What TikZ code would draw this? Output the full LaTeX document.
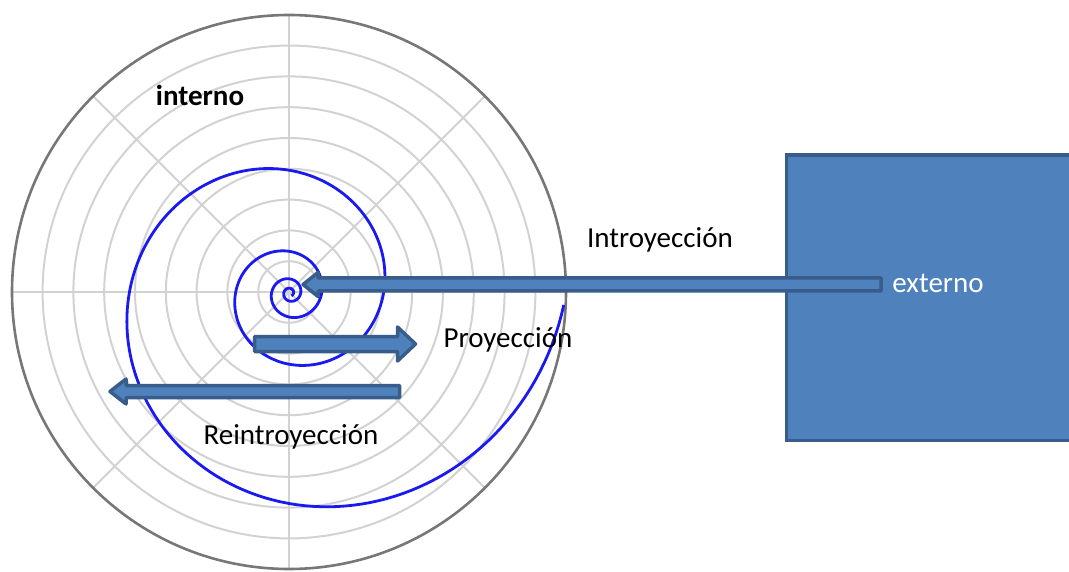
\documentclass[tikz,border=0pt]{standalone}
\usepackage{fontspec}
\setmainfont{Carlito}
\definecolor{gridgray}{HTML}{D2D2D2}
\definecolor{rimgray}{HTML}{777777}
\definecolor{spiralblue}{HTML}{1A1AF0}
\definecolor{boxfill}{HTML}{4F81BD}
\definecolor{boxedge}{HTML}{385D8A}
% block arrow: tail x, tip x, centre y, half shaft, half head, head length (signed)
\newcommand\BlockArrow[6]{%
  \draw[blockarrow] ({#1},{#3-#4}) -- ({#2-(#6)},{#3-#4}) -- ({#2-(#6)},{#3-#5})
    -- ({#2},{#3}) -- ({#2-(#6)},{#3+#5}) -- ({#2-(#6)},{#3+#4})
    -- ({#1},{#3+#4}) -- cycle;}
\begin{document}
\begin{tikzpicture}[x=1pt,y=-1pt,
  grid/.style={draw=gridgray, line width=2pt},
  rim/.style={draw=rimgray, line width=2.6pt},
  spiralline/.style={draw=spiralblue, line width=2.8pt, line join=round},
  blockarrow/.style={fill=boxfill, draw=boxedge, line width=3.5pt, line join=round},
  label/.style={font=\fontsize{29}{34}\selectfont, anchor=base, inner sep=0pt}]
\useasboundingbox (0,0) rectangle (1069,572);
\clip (0,0) rectangle (1069,572);
\coordinate (O) at (289,292);
% polar grid
\foreach \k in {1,...,8} \draw[grid] (O) circle[radius={\k*30.8}];
\foreach \a in {0,45,90,135}
  \draw[grid] ([shift={(\a:277)}]O) -- ([shift={(\a+180:277)}]O);
\draw[rim] (O) circle[radius=277];
% logarithmic spiral winding in towards the centre
\draw[spiralline] plot[domain=0:1500, samples=700]
  ({290+274*exp(-0.00300*\x)*cos(\x+2.5)}, {293+274*exp(-0.00300*\x)*sin(\x+2.5)});
% outer world
\node (ext) [fill=boxfill, draw=boxedge, line width=3.5pt, rectangle,
  minimum width=320pt, minimum height=285pt, anchor=north west, inner sep=0pt]
  at (784.5,153.5) {};
% arrows
\BlockArrow{881}{303}{284.5}{6.5}{12}{-15}
\BlockArrow{254.5}{415.5}{344}{7.5}{17}{18}
\BlockArrow{399.5}{110}{391.5}{6}{12.5}{-16}
% labels
\node[label, font=\fontsize{29}{34}\selectfont\bfseries] (interno) at (200,105.5) {interno};
\node[label] (intro) at (660,248) {Introyección};
\node[label] (proy) at (508,347) {Proyección};
\node[label] (reintro) at (291,444) {Reintroyección};
\node[label, text=white] (externo) at (938,293) {externo};
\end{tikzpicture}
\end{document}
